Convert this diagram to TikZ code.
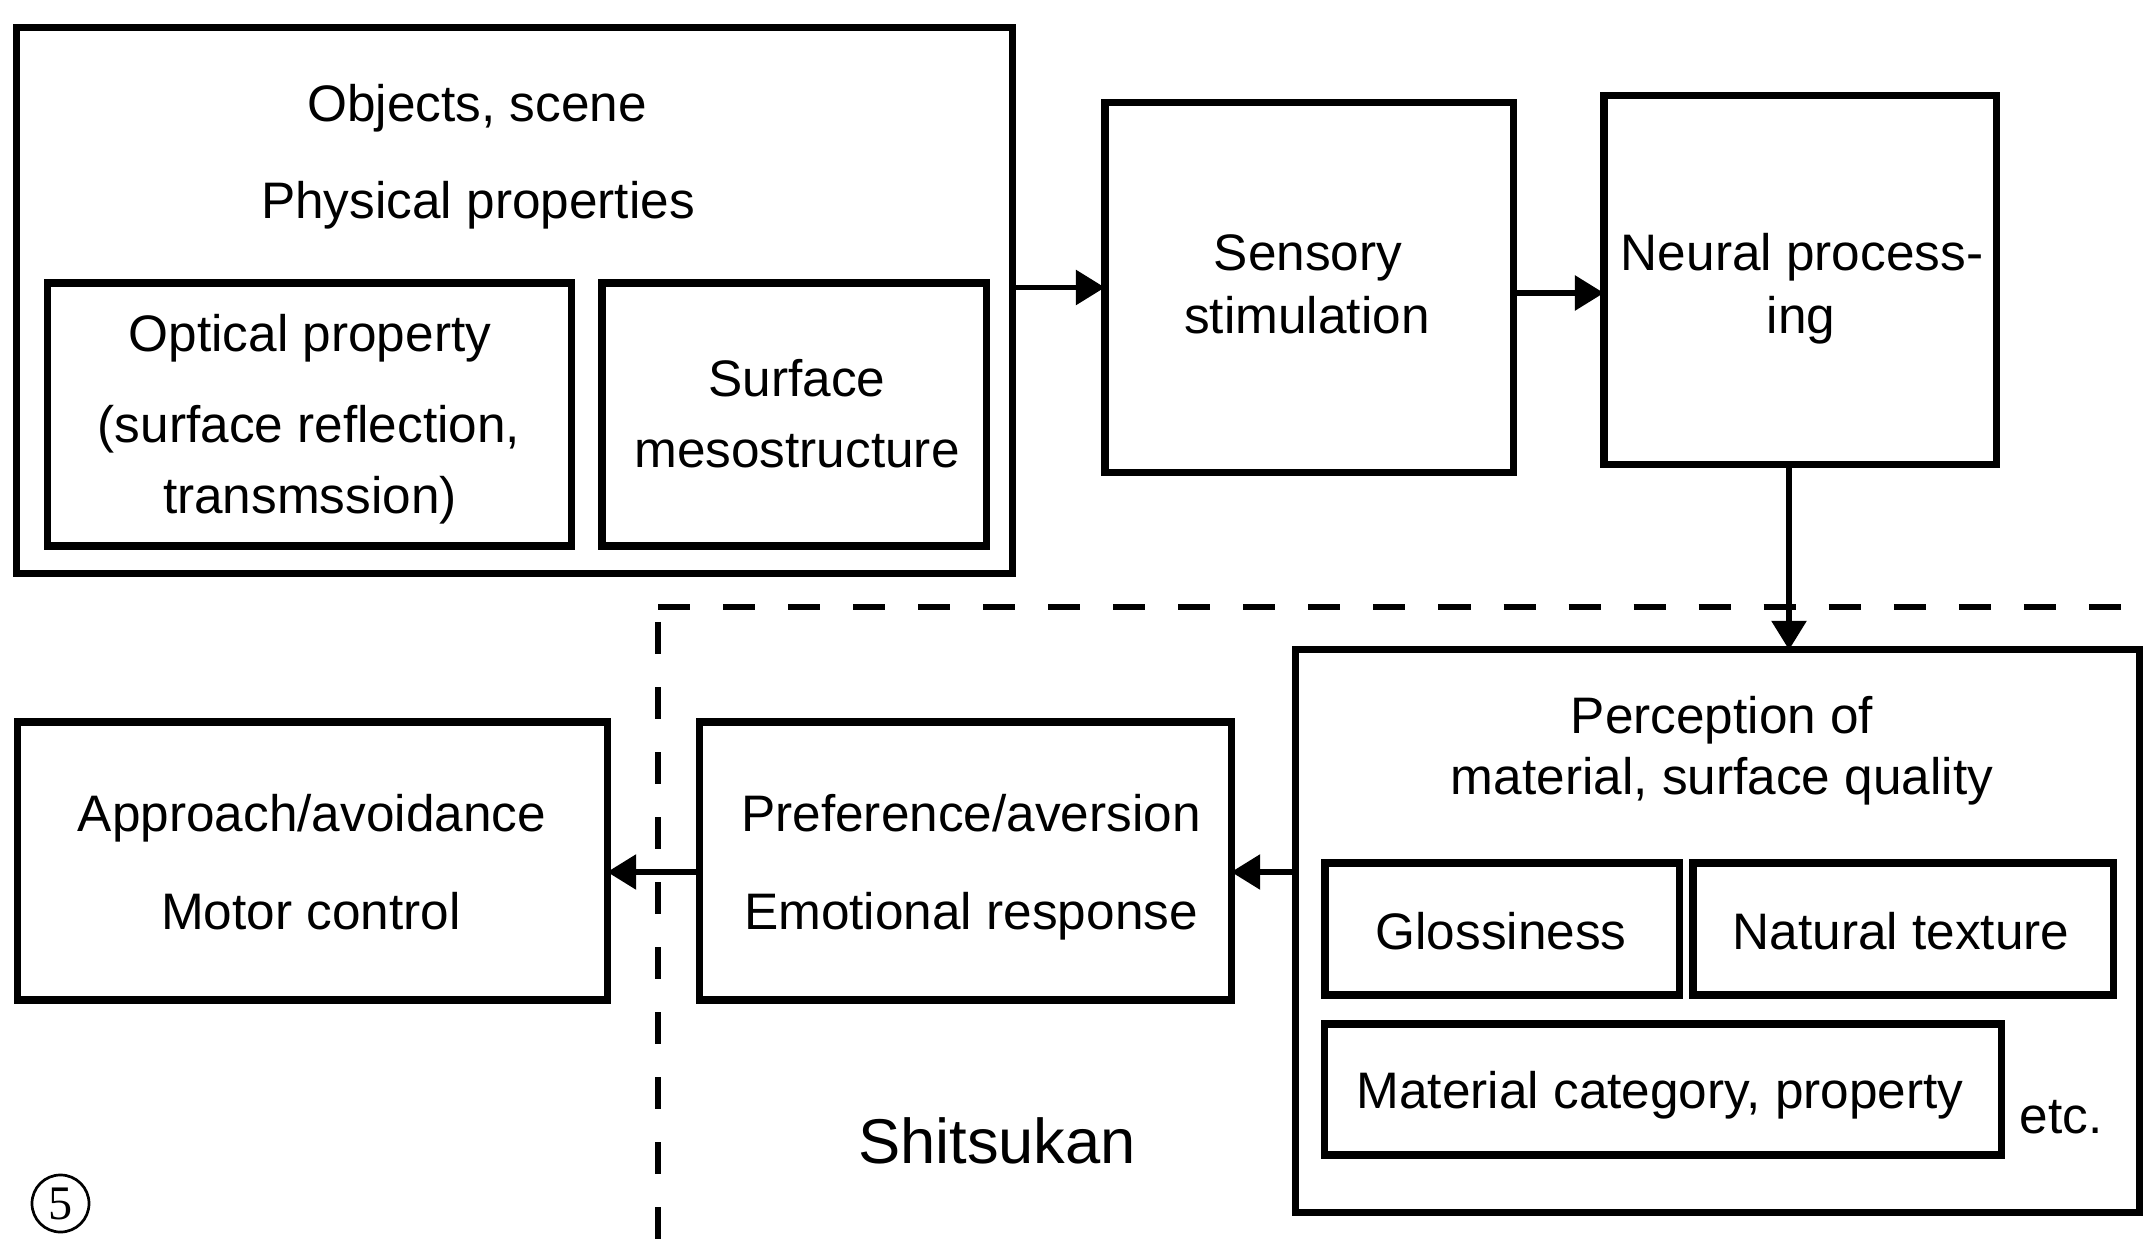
\documentclass[tikz,border=0pt]{standalone}
\usepackage{fontspec}
\setmainfont{Liberation Sans}
\newfontfamily\numserif{Liberation Serif}
\usetikzlibrary{arrows.meta,calc}
\tikzset{
  box/.style={draw, line width=0.072cm, inner sep=0pt, outer sep=0pt},
  lbl/.style={anchor=base, inner sep=0pt, font=\fontsize{14.6}{17}\selectfont},
  biglbl/.style={anchor=base, inner sep=0pt, font=\fontsize{18}{21}\selectfont},
  conn/.style={line width=0.058cm, -{Triangle[length=0.29cm,width=0.34cm]}},
  zone/.style={line width=0.066cm, dash pattern=on 0.32cm off 0.33cm},
}
\begin{document}
\begin{tikzpicture}[x=0.01cm,y=-0.01cm]
\useasboundingbox (0,0) rectangle (2152,1240);

% boxes
\node[box, minimum width=9.95cm, minimum height=5.45cm] (obj) at (514.5,300.5) {};
\node[box, minimum width=5.23cm, minimum height=2.63cm] (opt) at (309.5,414.5) {};
\node[box, minimum width=3.84cm, minimum height=2.63cm] (surf) at (794,414.5) {};
\node[box, minimum width=4.08cm, minimum height=3.69cm] (sens) at (1309,287.5) {};
\node[box, minimum width=3.92cm, minimum height=3.68cm] (neur) at (1800,280) {};
\node[box, minimum width=5.89cm, minimum height=2.78cm] (appr) at (312.5,861) {};
\node[box, minimum width=5.31cm, minimum height=2.78cm] (pref) at (965.5,861) {};
\node[box, minimum width=8.43cm, minimum height=5.62cm] (perc) at (1717.5,931) {};
\node[box, minimum width=3.54cm, minimum height=1.32cm] (glos) at (1502,929) {};
\node[box, minimum width=4.20cm, minimum height=1.32cm] (natt) at (1903,929) {};
\node[box, minimum width=6.76cm, minimum height=1.31cm] (matc) at (1663,1089.5) {};

% texts
\node[lbl] (t1) at (477,122) {Objects, scene};
\node[lbl] (t2) at (478,219) {Physical properties};
\node[lbl] (t3) at (310,352) {Optical property};
\node[lbl] (t4) at (309,443) {(surface reflection,};
\node[lbl] (t5) at (310,514) {transmssion)};
\node[lbl] (t6) at (797,397) {Surface};
\node[lbl] (t7) at (797,468) {mesostructure};
\node[lbl] (t8) at (1308,271) {Sensory};
\node[lbl] (t9) at (1307,334) {stimulation};
\node[lbl] (t10) at (1802,271) {Neural process-};
\node[lbl] (t11) at (1801,334) {ing};
\node[lbl] (t12) at (312,831) {Approach/avoidance};
\node[lbl] (t13) at (311,929) {Motor control};
\node[lbl] (t14) at (971,831) {Preference/aversion};
\node[lbl] (t15) at (971,929) {Emotional response};
\node[lbl] (t16) at (1722,733) {Perception of};
\node[lbl] (t17) at (1722,794) {material, surface quality};
\node[lbl] (t18) at (1501,949) {Glossiness};
\node[lbl] (t19) at (1901,949) {Natural texture};
\node[lbl] (t20) at (1660,1108) {Material category, property};
\node[lbl] (t21) at (2061,1133) {etc.};
\node[biglbl] (t22) at (997,1163) {Shitsukan};
\node[draw, circle, line width=0.027cm, minimum size=0.57cm, inner sep=0pt,
      font=\numserif\fontsize{13.7}{15}\selectfont] (num) at (60.5,1203.5) {5};

% connectors
\coordinate (a2) at (1513,293);
\coordinate (a3) at (1789,464);
\coordinate (a4) at (1296,872);
\draw[conn] (obj.east |- sens.west) -- (sens.west);
\draw[conn] (sens.east |- a2) -- (neur.west |- a2);
\draw[conn] (neur.south -| a3) -- (perc.north -| a3);
\draw[conn] (perc.west |- a4) -- (pref.east |- a4);
\draw[conn] (pref.west |- a4) -- (appr.east |- a4);

% Shitsukan zone
\coordinate (zc) at (658,607);
\coordinate (zr) at (2152,607);
\coordinate (zv) at (658,622);
\coordinate (zb) at (658,1240);
\draw[zone] (zc) -- (zr);
\draw[zone] (zv) -- (zb);
\end{tikzpicture}
\end{document}
